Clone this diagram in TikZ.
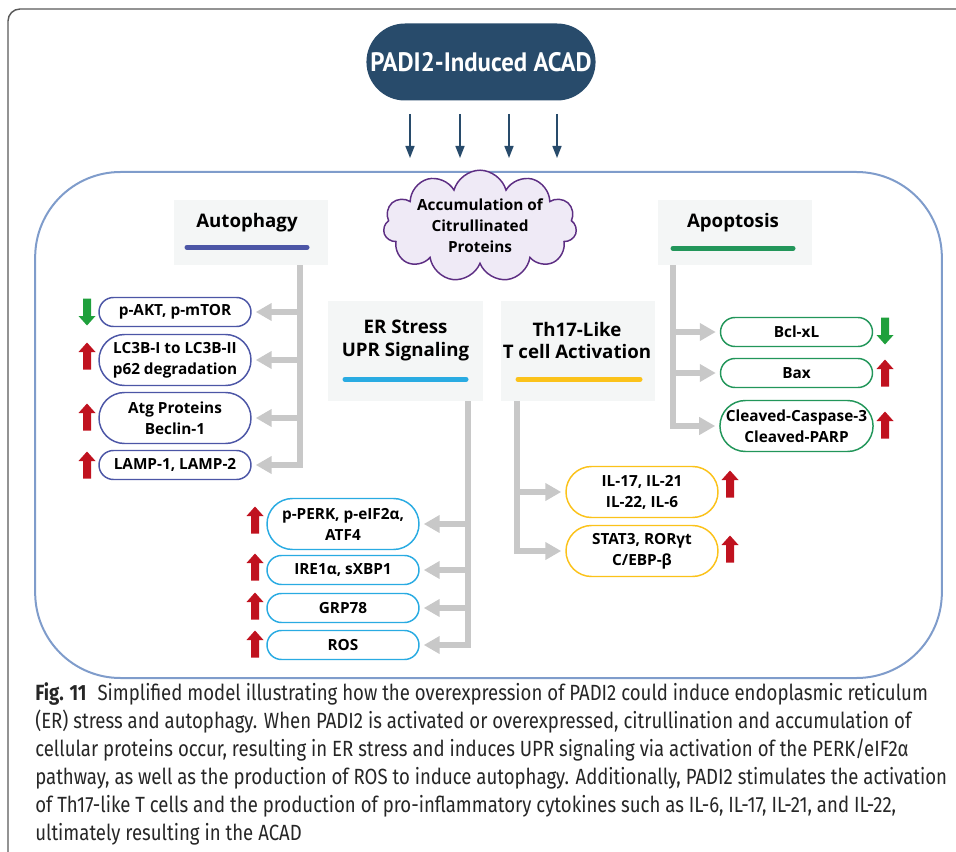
\documentclass[tikz,border=0pt]{standalone}
\usepackage{fontspec}
\setmainfont{Open Sans}
\newfontfamily\capfont[FakeStretch=0.845]{Fira Sans}
\newfontfamily\titlefont[FakeStretch=0.93]{PT Sans}
\usetikzlibrary{arrows.meta,shapes.misc,shapes.symbols}

\newdimen\pxu
\pxu=0.75pt

\definecolor{navy}{HTML}{284B6B}
\definecolor{panelblue}{HTML}{7F9CCB}
\definecolor{autocol}{HTML}{4C56A6}
\definecolor{apocol}{HTML}{22965A}
\definecolor{ercol}{HTML}{29ABE2}
\definecolor{thcol}{HTML}{FBC21A}
\definecolor{linegray}{HTML}{C8C8C8}
\definecolor{headgray}{HTML}{F4F6F6}
\definecolor{upred}{HTML}{C0121F}
\definecolor{downgreen}{HTML}{1FA03C}
\definecolor{cloudfill}{HTML}{EFEAF6}
\definecolor{cloudline}{HTML}{5D2E83}

\begin{document}
\begin{tikzpicture}[
    x=0.75pt, y=-0.75pt,
    titlepill/.style={rounded rectangle, fill=navy, text=white, minimum width=178.5pt, minimum height=57.75pt,
        font=\titlefont\bfseries\fontsize{20}{24}\selectfont},
    panel/.style={draw=panelblue, line width=1.5pt, rounded corners=64pt, minimum width=680pt, minimum height=379.5pt},
    citcloud/.style={cloud, cloud puffs=11, cloud ignores aspect, draw=cloudline, fill=cloudfill, line width=1.1pt,
        minimum width=145pt, minimum height=69pt, inner sep=0pt, align=center,
        font=\bfseries\fontsize{11.5}{15.75}\selectfont},
    headbox/.style={fill=headgray, minimum width=116pt, minimum height=48.75pt, inner sep=0pt},
    headtxt/.style={align=center, inner sep=0pt, font=\bfseries\fontsize{14}{17}\selectfont},
    hbar/.style={line width=3.75pt, line cap=round},
    pill/.style={rounded rectangle, draw, line width=1.1pt, fill=white, minimum width=114pt, minimum height=21.75pt,
        inner sep=0pt, align=center, font=\bfseries\fontsize{11.5}{15.75}\selectfont},
    twoline/.style={minimum height=38.25pt},
    branch/.style={draw=linegray, line width=4.5pt, -{Triangle[length=12pt,width=12.75pt]}, shorten >=3pt},
    downarr/.style={draw=navy, line width=1.1pt, -{Triangle[length=9pt,width=6.75pt]}, shorten <=9.75pt, shorten >=9.75pt},
    captext/.style={align=left, inner sep=0pt, text=black!85, font=\capfont\fontsize{16.5}{21}\selectfont},
    upmark/.pic={\fill[upred] (-4,13.5) -- (-4,-4) -- (-8.5,-4) -- (0,-13.5) -- (8.5,-4) -- (4,-4) -- (4,13.5) -- cycle;},
    downmark/.pic={\fill[downgreen] (-4,-13.5) -- (-4,4) -- (-8.5,4) -- (0,13.5) -- (8.5,4) -- (4,4) -- (4,-13.5) -- cycle;}
    ]
\useasboundingbox (0,0) rectangle (956,852);

% outer figure frame
\draw[gray!70!black, line width=1.1pt, rounded corners=9pt] (960,9) -- (8,9) -- (8,864) -- (24,864);

\node[titlepill] (padi) at (481,62) {PADI2-Induced ACAD};
\node[panel] (panel) at (488.5,425) {};
\foreach \x in {410,460,509,557}
    \draw[downarr] (\x,0 |- padi.south) -- (\x,0 |- panel.north);

\node[citcloud] (cit) at (480,226) {Accumulation of\\Citrullinated\\Proteins};

% headers
\node[headbox] (autoh) at (251,232.5) {};
\node[headtxt] (autot) at (247,223) {Autophagy};
\draw[hbar, autocol] (autoh.south) ++(-64,-18) -- ++(120,0);

\node[headbox] (apoh) at (735,232.5) {};
\node[headtxt] (apot) at (733,223) {Apoptosis};
\draw[hbar, apocol] (apoh.south) ++(-62,-17) -- ++(120,0);

\node[headbox, minimum height=75pt] (erh) at (405.5,351) {};
\node[headtxt] (ert) at (405.5,340.5) {ER Stress\\UPR Signaling};
\draw[hbar, ercol] (erh.south) ++(-60.5,-22) -- ++(121,0);

\node[headbox, minimum height=75pt] (thh) at (578,351) {};
\node[headtxt] (tht) at (577,340.5) {Th17-Like\\T cell Activation};
\draw[hbar, thcol] (thh.south) ++(-60,-22) -- ++(122,0);

% autophagy
\node[pill, draw=autocol] (pakt) at (175,312) {p-AKT, p-mTOR};
\node[pill, twoline, draw=autocol] (lc3) at (175,360) {LC3B-I to LC3B-II\\p62 degradation};
\node[pill, twoline, draw=autocol] (atg) at (175,418) {Atg Proteins\\Beclin-1};
\node[pill, draw=autocol] (lamp) at (175,465) {LAMP-1, LAMP-2};

% ER stress
\node[pill, twoline, draw=ercol] (perk) at (343,524) {p-PERK, p-eIF2α,\\ATF4};
\node[pill, draw=ercol] (ire) at (343,570) {IRE1α, sXBP1};
\node[pill, draw=ercol] (grp) at (343,608) {GRP78};
\node[pill, draw=ercol] (ros) at (343,645) {ROS};

% Th17
\node[pill, twoline, draw=thcol] (il) at (642,492) {IL-17, IL-21\\IL-22, IL-6};
\node[pill, twoline, draw=thcol] (stat) at (642,551) {STAT3, RORγt\\C/EBP-β};

% apoptosis
\node[pill, draw=apocol] (bcl) at (796.5,332) {Bcl-xL};
\node[pill, draw=apocol] (bax) at (796.5,373) {Bax};
\node[pill, twoline, draw=apocol] (casp) at (796.5,426) {Cleaved-Caspase-3\\Cleaved-PARP};

% trunks and branches
\coordinate (atop) at (autoh.south -| 300,0);
\draw[branch] (atop) -- (atop |- lamp) -- (lamp.east);
\foreach \b in {pakt,lc3,atg}
    \draw[branch] (atop |- \b) -- (\b.east);

\coordinate (etop) at (erh.south -| 468,0);
\draw[branch] (etop) -- (etop |- ros) -- (ros.east);
\foreach \b in {perk,ire,grp}
    \draw[branch] (etop |- \b) -- (\b.east);

\coordinate (ttop) at (thh.south -| 517,0);
\draw[branch] (ttop) -- (ttop |- stat) -- (stat.west);
\draw[branch] (ttop |- il) -- (il.west);

\coordinate (ptop) at (apoh.south -| 673,0);
\draw[branch] (ptop) -- (ptop |- casp) -- (casp.west);
\foreach \b in {bcl,bax}
    \draw[branch] (ptop |- \b) -- (\b.west);

% up / down marks
\pic at (87,312) {downmark};
\foreach \y in {356,417,465} \pic at (87,\y) {upmark};
\foreach \y in {520,567,606,644} \pic at (255,\y) {upmark};
\foreach \y in {484,549} \pic at (730,\y) {upmark};
\pic at (885,331) {downmark};
\foreach \y in {373,425} \pic at (885,\y) {upmark};

\node[captext, anchor=base west] (cap) at (35,840) {\textbf{Fig. 11}\hspace{0.5em}Simplified model illustrating how the overexpression of PADI2 could induce endoplasmic reticulum\\
(ER) stress and autophagy. When PADI2 is activated or overexpressed, citrullination and accumulation of\\
cellular proteins occur, resulting in ER stress and induces UPR signaling via activation of the PERK/eIF2α\\
pathway, as well as the production of ROS to induce autophagy. Additionally, PADI2 stimulates the activation\\
of Th17-like T cells and the production of pro-inflammatory cytokines such as IL-6, IL-17, IL-21, and IL-22,\\
ultimately resulting in the ACAD};
\end{tikzpicture}
\end{document}
